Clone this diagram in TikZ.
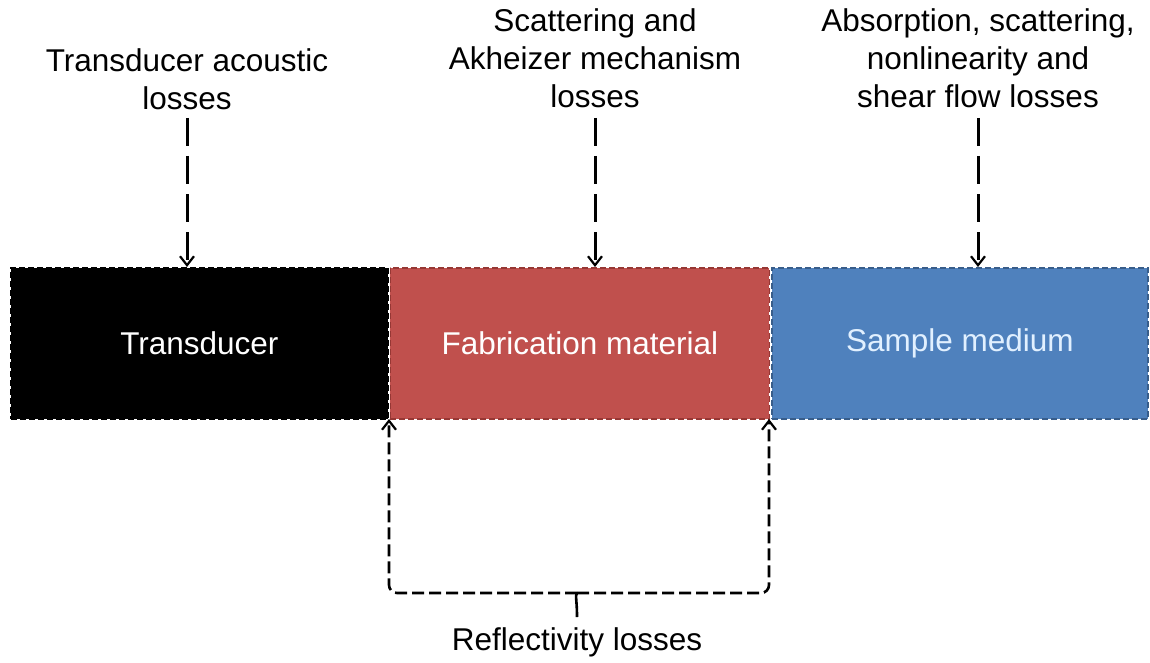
\documentclass[tikz,border=0pt]{standalone}
\usepackage{fontspec}
\setmainfont{Liberation Sans}
\usetikzlibrary{arrows.meta}
\definecolor{fabred}{RGB}{192,80,77}
\definecolor{fabredd}{RGB}{150,55,52}
\definecolor{sampblue}{RGB}{79,129,189}
\definecolor{sampblued}{RGB}{56,93,138}
\definecolor{samptext}{RGB}{225,240,255}
\tikzset{
  layer/.style={minimum width=377pt, minimum height=151pt, inner sep=0pt, anchor=north west,
    line width=1.8pt, dash pattern=on 6pt off 3pt, font=\fontsize{31.5}{38}\selectfont},
  lbl/.style={align=center, inner sep=0pt, font=\fontsize{31.5}{38}\selectfont},
  lossarrow/.style={line width=3pt, dash pattern=on 28pt off 10pt, -{Straight Barb[length=9pt,width=14pt,line width=2.2pt]}},
  bracearrow/.style={line width=2.6pt, dash pattern=on 12pt off 5pt, rounded corners=8pt, -{Straight Barb[length=9pt,width=14pt,line width=2.2pt]}}
}
\begin{document}
\begin{tikzpicture}[x=1pt,y=-1pt]
\useasboundingbox (0,0) rectangle (1150,663);
\node[layer, fill=black, draw=black, text=white] (trans) at (10,267) {Transducer};
\node[layer, fill=fabred, draw=fabredd, text=white, minimum width=379pt] (fab) at (389.5,267) {Fabrication material};
\node[layer, fill=sampblue, draw=sampblued, text=samptext, minimum width=376pt] (samp) at (771,267) {Sample medium};
\node[lbl] (l1) at (187,79) {Transducer acoustic\\losses};
\node[lbl] (l2) at (595,58) {Scattering and\\Akheizer mechanism\\losses};
\node[lbl] (l3) at (978,58) {Absorption, scattering,\\nonlinearity and\\shear flow losses};
\node[lbl] (refl) at (577,642) {Reflectivity losses};
\coordinate (a1) at (187,118);
\coordinate (a2) at (595,118);
\coordinate (a3) at (978,118);
\draw[lossarrow] (a1) -- (a1 |- trans.north);
\draw[lossarrow] (a2) -- (a2 |- fab.north);
\draw[lossarrow] (a3) -- (a3 |- samp.north);
\coordinate (tip) at (577,617);
\coordinate (mid) at (577,593);
\draw[line width=2.6pt] (tip) .. controls (577,600) and (575,596) .. (mid);
\draw[bracearrow] (mid) -- (389,593) -- (389,419);
\draw[bracearrow] (mid) -- (769,593) -- (769,419);
\end{tikzpicture}
\end{document}
